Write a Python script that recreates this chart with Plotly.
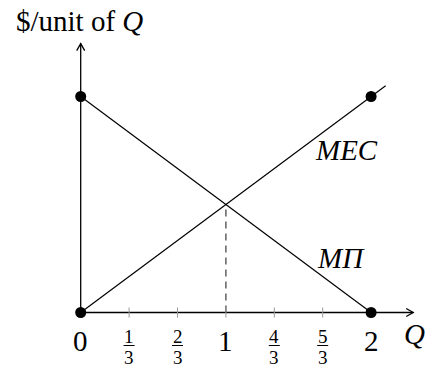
import plotly.graph_objects as go

# ---- data ----
mec_x = [0, 2.1]
mec_y = [0, 1.05]
mpi_x = [0, 2]
mpi_y = [1, 0]
dot_x = [0, 0, 2, 2]
dot_y = [1, 0, 1, 0]
eq_x = 1
eq_y = 0.5
int_ticks = [0, 1, 2]
int_labels = ["0", "1", "2"]
frac_ticks = [1/3, 2/3, 4/3, 5/3]
frac_num = ["1", "2", "4", "5"]
frac_den = ["3", "3", "3", "3"]
x_axis_end = 2.29
y_axis_end = 1.245

FONT = "Liberation Serif"

W, H = 427, 370
x0px, xs = 80.7, 145.2
y0px, ys = 312.5, 216.0
xr = [-x0px / xs, (W - x0px) / xs]
yr = [(y0px - H) / ys, y0px / ys]

def px2x(p):
    return (p - x0px) / xs

def px2y(p):
    return (y0px - p) / ys

fig = go.Figure()

fig.add_trace(go.Scatter(x=[eq_x, eq_x], y=[0, eq_y], mode="lines",
                         line=dict(color="#555555", width=1.4, dash="7px,5px"),
                         hoverinfo="skip", showlegend=False))
fig.add_trace(go.Scatter(x=mpi_x, y=mpi_y, mode="lines",
                         line=dict(color="black", width=1.2), showlegend=False))
fig.add_trace(go.Scatter(x=mec_x, y=mec_y, mode="lines",
                         line=dict(color="black", width=1.2), showlegend=False))

shapes = []
shapes.append(dict(type="line", xref="x", yref="y", x0=0, y0=0, x1=x_axis_end, y1=0,
                   line=dict(color="black", width=1.3)))
shapes.append(dict(type="line", xref="x", yref="y", x0=0, y0=0, x1=0, y1=y_axis_end,
                   line=dict(color="black", width=1.3)))
ah, aw = 7, 4
xe = x_axis_end
shapes.append(dict(type="path", xref="x", yref="y",
                   path=f"M {xe - ah/xs},{aw/ys} L {xe},0 L {xe - ah/xs},{-aw/ys}",
                   line=dict(color="black", width=1.3)))
shapes.append(dict(type="path", xref="x", yref="y",
                   path=f"M {-aw/xs},{y_axis_end - ah/ys} L 0,{y_axis_end} L {aw/xs},{y_axis_end - ah/ys}",
                   line=dict(color="black", width=1.3)))
for t in frac_ticks + [1]:
    shapes.append(dict(type="line", xref="x", yref="y", x0=t, y0=-5/ys, x1=t, y1=5/ys,
                       line=dict(color="#999999", width=1)))
fig.add_trace(go.Scatter(x=dot_x, y=dot_y, mode="markers",
                         marker=dict(color="black", size=11), showlegend=False))

ann = []
for t, lab in zip(int_ticks, int_labels):
    ann.append(dict(x=t, y=px2y(341), text=lab, showarrow=False,
                    font=dict(family=FONT, size=29, color="black"),
                    xanchor="center", yanchor="middle"))
for t, n, d in zip(frac_ticks, frac_num, frac_den):
    ann.append(dict(x=t, y=px2y(336), text=n, showarrow=False,
                    font=dict(family=FONT, size=19, color="black"),
                    xanchor="center", yanchor="middle"))
    ann.append(dict(x=t, y=px2y(357), text=d, showarrow=False,
                    font=dict(family=FONT, size=19, color="black"),
                    xanchor="center", yanchor="middle"))
    shapes.append(dict(type="line", xref="x", yref="y", x0=t - 5.5/xs, x1=t + 5.5/xs,
                       y0=px2y(345.5), y1=px2y(345.5), line=dict(color="black", width=1)))

ann.append(dict(x=px2x(414), y=px2y(334), text="<i>Q</i>", showarrow=False,
                font=dict(family=FONT, size=29, color="black"), xanchor="center", yanchor="middle"))
ann.append(dict(x=px2x(79), y=px2y(21), text="$/unit of <i>Q</i>", showarrow=False,
                font=dict(family=FONT, size=29, color="black"), xanchor="center", yanchor="middle"))
ann.append(dict(x=px2x(346), y=px2y(150), text="<i>MEC</i>", showarrow=False,
                font=dict(family=FONT, size=29, color="black"), xanchor="center", yanchor="middle"))
ann.append(dict(x=px2x(341), y=px2y(258), text="<i>MΠ</i>", showarrow=False,
                font=dict(family=FONT, size=29, color="black"), xanchor="center", yanchor="middle"))

fig.update_layout(
    width=W, height=H, margin=dict(l=0, r=0, t=0, b=0),
    paper_bgcolor="white", plot_bgcolor="white",
    xaxis=dict(range=xr, visible=False, fixedrange=True),
    yaxis=dict(range=yr, visible=False, fixedrange=True),
    shapes=shapes, annotations=ann, showlegend=False,
)
fig.write_html("out.html", config={"displayModeBar": False},
               post_script="document.body.style.margin='0';document.body.style.overflow='hidden';")
